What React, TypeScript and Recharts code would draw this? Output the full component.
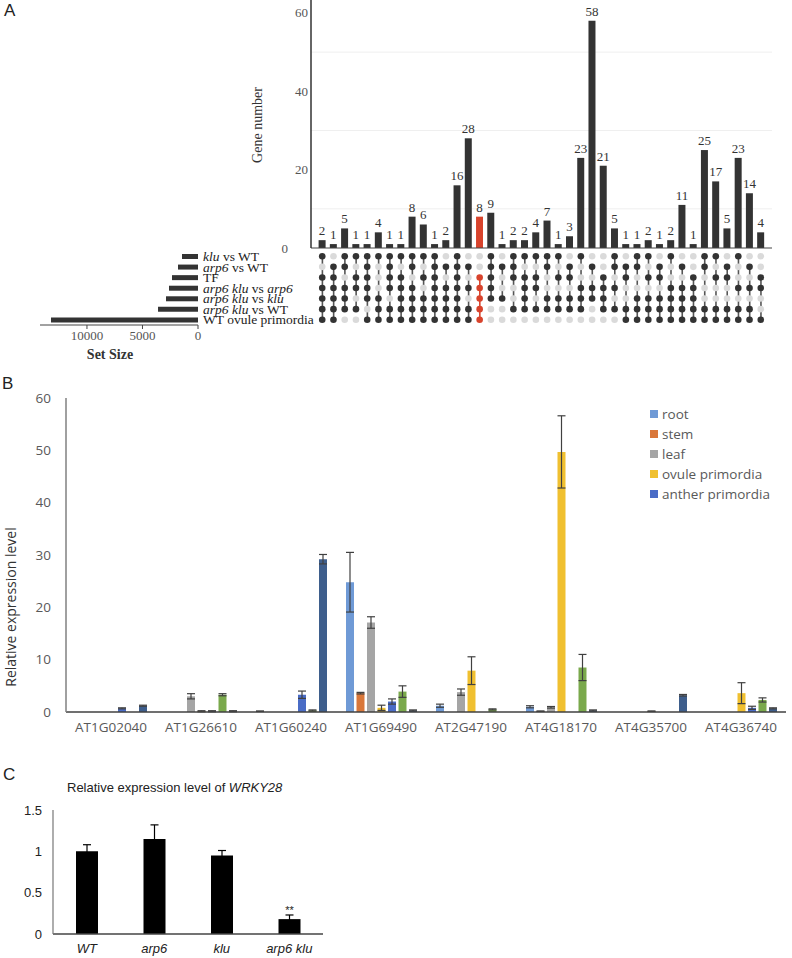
import React from 'react';
import { BarChart, Bar, XAxis, YAxis, ComposedChart, Scatter, ErrorBar, LabelList, CartesianGrid, Cell } from 'recharts';

const SERIF = '"Liberation Serif", "Times New Roman", serif';
const SANS = '"Open Sans", sans-serif';
const ARIAL = '"Liberation Sans", Arial, sans-serif';

// Panel A: intersection sizes (UpSet plot)
const intersectSizes = [2, 1, 5, 1, 1, 4, 1, 1, 8, 6, 1, 2, 16, 28, 8, 9, 1, 2, 2, 4, 7, 1, 3, 23, 58, 21, 5, 1, 1, 2, 1, 2, 11, 1, 25, 17, 5, 23, 14, 4];
const highlightCol = 14;

const setNames = ['klu vs WT', 'arp6 vs WT', 'TF', 'arp6 klu vs arp6', 'arp6 klu vs klu', 'arp6 klu vs WT', 'WT ovule primordia'];
const setSizes = [1440, 1800, 2340, 2610, 2880, 3600, 13240];
const italicWords = ['klu', 'arp6'];

// membership matrix, one string per set, one char per intersection
const matrixRows = [
  '1011111111101001011111010010110100110100',
  '011010101' + '0111101110' + '010101011101010101010',
  '110110110' + '1101011011' + '101100101011001011001',
  '111110111' + '0111111001' + '100011110000111000111',
  '111011011' + '1111011101' + '011111100111111000000',
  '111101111' + '1111110011' + '111110111111111111110',
  '11001111111111' + '1' + '000000000000' + '1111111111111',
];

// Panel B: expression by tissue
const genes = ['AT1G02040', 'AT1G26610', 'AT1G60240', 'AT1G69490', 'AT2G47190', 'AT4G18170', 'AT4G35700', 'AT4G36740'];
const rootVals = [0, 0, 0.15, 24.8, 1.2, 1.0, 0, 0];
const rootErr = [0, 0, 0.05, 5.7, 0.3, 0.2, 0, 0];
const stemVals = [0, 0, 0, 3.6, 0, 0.15, 0, 0];
const stemErr = [0, 0, 0, 0.15, 0, 0.05, 0, 0];
const leafVals = [0, 3.0, 0, 17.1, 3.8, 0.9, 0, 0];
const leafErr = [0, 0.5, 0, 1.1, 0.6, 0.15, 0, 0];
const ovuleVals = [0, 0.15, 0, 0.8, 7.9, 49.7, 0.15, 3.6];
const ovuleErr = [0, 0.1, 0, 0.5, 2.65, 6.9, 0.05, 2.0];
const antherVals = [0.7, 0.15, 3.3, 2.0, 0, 0, 0, 0.8];
const antherErr = [0.1, 0.1, 0.7, 0.5, 0, 0, 0, 0.3];
const greenVals = [0, 3.3, 0.3, 3.9, 0.5, 8.5, 0, 2.3];
const greenErr = [0, 0.2, 0.1, 1.1, 0.1, 2.5, 0, 0.4];
const navyVals = [1.2, 0.15, 29.2, 0.3, 0, 0.3, 3.2, 0.7];
const navyErr = [0.1, 0.1, 0.9, 0.1, 0, 0.1, 0.15, 0.1];

// Panel C: WRKY28
const genotypes = ['WT', 'arp6', 'klu', 'arp6 klu'];
const wrkyVals = [1.0, 1.15, 0.95, 0.18];
const wrkyErr = [0.08, 0.17, 0.06, 0.05];
const wrkySig = ['', '', '', '**'];

const series = [
  { key: 'root', name: 'root', color: '#6f9ad6', vals: rootVals, err: rootErr, legend: true },
  { key: 'stem', name: 'stem', color: '#d9773a', vals: stemVals, err: stemErr, legend: true },
  { key: 'leaf', name: 'leaf', color: '#a5a5a5', vals: leafVals, err: leafErr, legend: true },
  { key: 'ovule', name: 'ovule primordia', color: '#f0c030', vals: ovuleVals, err: ovuleErr, legend: true },
  { key: 'anther', name: 'anther primordia', color: '#4a6cc6', vals: antherVals, err: antherErr, legend: true },
  { key: 'green', name: '', color: '#7aa94c', vals: greenVals, err: greenErr, legend: false },
  { key: 'navy', name: '', color: '#3e5e8c', vals: navyVals, err: navyErr, legend: false },
];

const intersectData = intersectSizes.map((n, i) => ({ col: i, n }));

const matrixData = intersectSizes.map((_, c) => {
  const on = matrixRows.map((r, i) => (r[c] === '1' ? i : -1)).filter((i) => i >= 0);
  const o: any = { col: c, link: on.length > 1 ? [Math.max(...on), Math.min(...on)] : null };
  matrixRows.forEach((r, i) => {
    o['r' + i] = i;
    o['on' + i] = r[c] === '1';
  });
  return o;
});

const setData = setNames.map((name, i) => ({ name, size: setSizes[i] }));

const exprData = genes.map((gene, gi) => {
  const o: any = { gene };
  series.forEach((s) => {
    o[s.key] = s.vals[gi];
    o[s.key + 'Err'] = s.err[gi];
  });
  return o;
});

const wrkyData = genotypes.map((g, i) => ({ g, v: wrkyVals[i], e: wrkyErr[i], sig: wrkySig[i] }));

const RED = '#d8432c';

const GeneTick = (p: any) => (
  <text x={p.payload.value === 0 ? p.x - 20 : p.x} y={p.y} dy="0.35em" textAnchor="end" fontFamily={SERIF} fontSize={13} fill="#555">
    {p.payload.value}
  </text>
);

const SetTick = (p: any) => {
  const words = String(p.payload.value).split(' ');
  return (
    <text x={p.x} y={p.y} dy="0.35em" textAnchor="start" fontFamily={SERIF} fontSize={13.5} fill="#222">
      {words.map((w, i) => (
        <tspan key={i} fontStyle={italicWords.includes(w) ? 'italic' : 'normal'}>
          {(i > 0 ? ' ' : '') + w}
        </tspan>
      ))}
    </text>
  );
};

const CountLabel = (p: any) => (
  <text x={p.x + p.width / 2} y={p.y - 5} textAnchor="middle" fontFamily={SERIF} fontSize={13} fill="#333">
    {p.value}
  </text>
);

const RotLabel = ({ x, y, text, style }: any) => (
  <div
    style={{
      position: 'absolute',
      left: x,
      top: y,
      transform: 'translate(-50%, -50%) rotate(-90deg)',
      whiteSpace: 'nowrap',
      ...style,
    }}
  >
    {text}
  </div>
);

const abs = (left: number, top: number, extra: any = {}) => ({ position: 'absolute' as const, left, top, ...extra });

export default function App() {
  return (
    <div style={{ position: 'absolute', left: 0, top: 0, width: 792, height: 958, overflow: 'hidden', background: '#fff' }}>
      {/* panel letters */}
      <div style={abs(4, 1, { fontFamily: ARIAL, fontSize: 17, color: '#222', lineHeight: '20px' })}>A</div>
      <div style={abs(2, 374, { fontFamily: ARIAL, fontSize: 17, color: '#222', lineHeight: '20px' })}>B</div>
      <div style={abs(3, 765, { fontFamily: ARIAL, fontSize: 17, color: '#222', lineHeight: '20px' })}>C</div>

      {/* A: intersection bars */}
      <div style={abs(240, 0)}>
        <BarChart width={540} height={260} data={intersectData} margin={{ top: 0, right: 8, bottom: 0, left: 0 }} barSize={7}>
          <CartesianGrid vertical={false} horizontalValues={[10, 30, 50]} stroke="#efefef" />
          <XAxis dataKey="col" tick={false} tickLine={false} height={12} padding={{ left: 5.6, right: 5.6 }} axisLine={{ stroke: '#444', strokeWidth: 1.2 }} />
          <YAxis domain={[0, 63.3]} ticks={[0, 20, 40, 60]} width={71} tickSize={0} tickMargin={3} tickLine={false} axisLine={{ stroke: '#333', strokeWidth: 1.5 }} tick={<GeneTick />} />
          <Bar dataKey="n" isAnimationActive={false}>
            {intersectData.map((d, i) => (
              <Cell key={i} fill={i === highlightCol ? RED : '#333'} />
            ))}
            <LabelList dataKey="n" content={<CountLabel />} />
          </Bar>
        </BarChart>
      </div>
      <RotLabel x={258} y={125} text="Gene number" style={{ fontFamily: SERIF, fontSize: 14, color: '#333' }} />

      {/* A: membership matrix */}
      <div style={abs(240, 251)}>
        <ComposedChart width={540} height={74} data={matrixData} margin={{ top: 0, right: 8, bottom: 0, left: 71 }}>
          <XAxis dataKey="col" hide padding={{ left: 5.6, right: 5.6 }} />
          <YAxis type="number" domain={[-0.5, 6.5]} reversed hide />
          <Bar dataKey="link" barSize={1.6} isAnimationActive={false}>
            {matrixData.map((d, i) => (
              <Cell key={i} fill={i === highlightCol ? RED : '#555'} />
            ))}
          </Bar>
          {setNames.map((_, r) => (
            <Scatter
              key={r}
              dataKey={'r' + r}
              isAnimationActive={false}
              shape={(p: any) => (
                <circle
                  cx={p.cx}
                  cy={p.cy}
                  r={3.3}
                  fill={p.payload['on' + r] ? (p.payload.col === highlightCol ? RED : '#333') : '#dadada'}
                />
              )}
            />
          ))}
        </ComposedChart>
      </div>

      {/* A: set sizes */}
      <div style={abs(0, 241)}>
        <BarChart layout="vertical" width={320} height={114} data={setData} margin={{ top: 10, right: 0, bottom: 0, left: 40 }} barSize={5}>
          <XAxis
            type="number"
            reversed
            domain={[0, 14230]}
            ticks={[0, 5000, 10000]}
            height={30}
            tickSize={4}
            tickMargin={2}
            axisLine={{ stroke: '#444' }}
            tickLine={{ stroke: '#444' }}
            tick={{ fontFamily: SERIF, fontSize: 13, fill: '#555' }}
          />
          <YAxis type="category" dataKey="name" orientation="right" width={122} axisLine={false} tickLine={false} tickSize={0} tickMargin={5} interval={0} tick={<SetTick />} />
          <Bar dataKey="size" fill="#333" isAnimationActive={false} />
        </BarChart>
      </div>
      <div style={abs(110, 355, { transform: 'translate(-50%, -50%)', fontFamily: SERIF, fontSize: 14, fontWeight: 'bold', color: '#333', whiteSpace: 'nowrap' })}>
        Set Size
      </div>

      {/* B: tissue expression */}
      <div style={abs(0, 390)}>
        <BarChart width={792} height={350} data={exprData} margin={{ top: 8, right: 6, bottom: 0, left: 16 }} barSize={8} barGap={2.5}>
          <XAxis
            dataKey="gene"
            height={28}
            tickLine={false}
            tickSize={0}
            tickMargin={10}
            interval={0}
            axisLine={{ stroke: '#404040', strokeWidth: 1.5 }}
            tick={{ fontFamily: SANS, fontSize: 13.5, fill: '#595959' }}
          />
          <YAxis
            domain={[0, 60]}
            ticks={[0, 10, 20, 30, 40, 50, 60]}
            width={50}
            tickLine={false}
            tickSize={0}
            tickMargin={15}
            axisLine={{ stroke: '#808080', strokeWidth: 1.5 }}
            tick={{ fontFamily: SANS, fontSize: 13.5, fill: '#595959' }}
          />
          {series.map((s) => (
            <Bar key={s.key} dataKey={s.key} name={s.name} fill={s.color} isAnimationActive={false}>
              <ErrorBar dataKey={s.key + 'Err'} width={4} stroke="#404040" strokeWidth={1.2} />
            </Bar>
          ))}
        </BarChart>
      </div>
      <RotLabel x={10} y={607} text="Relative expression level" style={{ fontFamily: SANS, fontSize: 14, color: '#333' }} />
      <div style={abs(650, 404)}>
        {series
          .filter((s) => s.legend)
          .map((s) => (
            <div key={s.key} style={{ display: 'flex', alignItems: 'center', height: 20, fontFamily: SANS, fontSize: 13.5, color: '#595959' }}>
              <span style={{ display: 'inline-block', width: 8, height: 8, background: s.color, marginRight: 4 }} />
              {s.name}
            </div>
          ))}
      </div>

      {/* C: WRKY28 */}
      <div style={abs(67, 780, { fontFamily: ARIAL, fontSize: 13, color: '#222', whiteSpace: 'nowrap' })}>
        Relative expression level of <i>WRKY28</i>
      </div>
      <div style={abs(0, 800)}>
        <BarChart width={340} height={158} data={wrkyData} margin={{ top: 10, right: 17, bottom: 0, left: 13 }} barSize={22}>
          <XAxis
            dataKey="g"
            height={24}
            tickLine={false}
            tickSize={0}
            tickMargin={10}
            interval={0}
            axisLine={{ stroke: '#444', strokeWidth: 1.3 }}
            tick={{ fontFamily: ARIAL, fontSize: 13, fill: '#222', fontStyle: 'italic' }}
          />
          <YAxis
            domain={[0, 1.5]}
            ticks={[0, 0.5, 1, 1.5]}
            width={40}
            tickLine={false}
            tickSize={0}
            tickMargin={11}
            axisLine={{ stroke: '#777', strokeWidth: 1.2 }}
            tick={{ fontFamily: ARIAL, fontSize: 13, fill: '#222' }}
          />
          <Bar dataKey="v" fill="#000" isAnimationActive={false}>
            <ErrorBar dataKey="e" width={4} stroke="#000" strokeWidth={1.2} />
            <LabelList dataKey="sig" position="top" offset={5} fill="#222" style={{ fontFamily: ARIAL, fontSize: 11 }} />
          </Bar>
        </BarChart>
      </div>
    </div>
  );
}
